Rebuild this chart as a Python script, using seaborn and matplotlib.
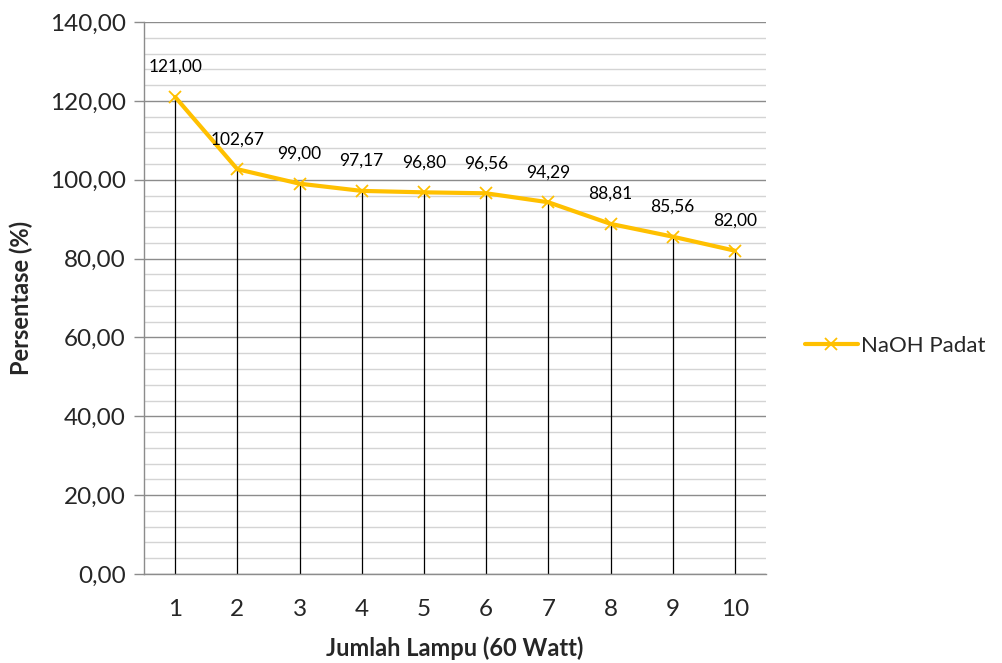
import matplotlib
matplotlib.use("Agg")
import matplotlib.pyplot as plt
import seaborn as sns
import pandas as pd
from matplotlib.ticker import MultipleLocator, FuncFormatter

# Data
lampu = [1, 2, 3, 4, 5, 6, 7, 8, 9, 10]
persentase = [121.00, 102.67, 99.00, 97.17, 96.80, 96.56, 94.29, 88.81, 85.56, 82.00]
series_name = "NaOH Padat"

df = pd.DataFrame({"Jumlah Lampu": lampu, "Persentase": persentase})

sns.set_theme(style="white")
plt.rcParams["font.family"] = ["Lato", "DejaVu Sans"]

fig = plt.figure(figsize=(10.03, 6.63), dpi=100)
ax = fig.add_axes([0.1436, 0.1342, 0.6201, 0.8326])

line_color = "#FFC000"

# Drop lines from the axis to each point
ax.vlines(df["Jumlah Lampu"], 0, df["Persentase"], color="black", linewidth=0.9, zorder=2)

sns.lineplot(data=df, x="Jumlah Lampu", y="Persentase", ax=ax, color=line_color,
             linewidth=3.0, marker="x", markersize=9, markeredgewidth=1.3,
             markeredgecolor=line_color, label=series_name, zorder=3)

# Value labels
for xv, yv in zip(df["Jumlah Lampu"], df["Persentase"]):
    ax.annotate(f"{yv:.2f}".replace(".", ","), (xv, yv), xytext=(0, 21.5),
                textcoords="offset points", ha="center", va="center",
                fontsize=12.5, color="black")

ax.set_xlim(0.5, 10.5)
ax.set_ylim(0, 140)
ax.set_xticks(lampu)
ax.yaxis.set_major_locator(MultipleLocator(20))
ax.yaxis.set_minor_locator(MultipleLocator(4))
ax.yaxis.set_major_formatter(FuncFormatter(lambda v, p: f"{v:.2f}".replace(".", ",")))

ax.grid(which="major", axis="y", color="#8c8c8c", linewidth=1.0, zorder=0)
ax.grid(which="minor", axis="y", color="#d4d4d4", linewidth=1.0, zorder=0)
ax.grid(which="major", axis="x", visible=False)
ax.set_axisbelow(True)

for side in ["top", "right"]:
    ax.spines[side].set_visible(False)
for side in ["left", "bottom"]:
    ax.spines[side].set_color("#8c8c8c")
    ax.spines[side].set_linewidth(1.0)

ax.tick_params(axis="y", which="major", left=True, length=7, width=1.0, color="#8c8c8c",
               labelsize=17.5, pad=6)
ax.tick_params(axis="y", which="minor", left=False)
ax.tick_params(axis="x", which="major", bottom=False, labelsize=17.5, pad=12)

ax.set_xlabel("Jumlah Lampu (60 Watt)", fontsize=17, fontweight="bold", labelpad=12)
ax.set_ylabel("Persentase (%)", fontsize=17, fontweight="bold", labelpad=12)

leg = ax.legend(loc="center left", bbox_to_anchor=(1.03, 0.413), frameon=False,
                fontsize=16, handlelength=2.4, handletextpad=0.15)

fig.savefig("out.png", dpi=100)
